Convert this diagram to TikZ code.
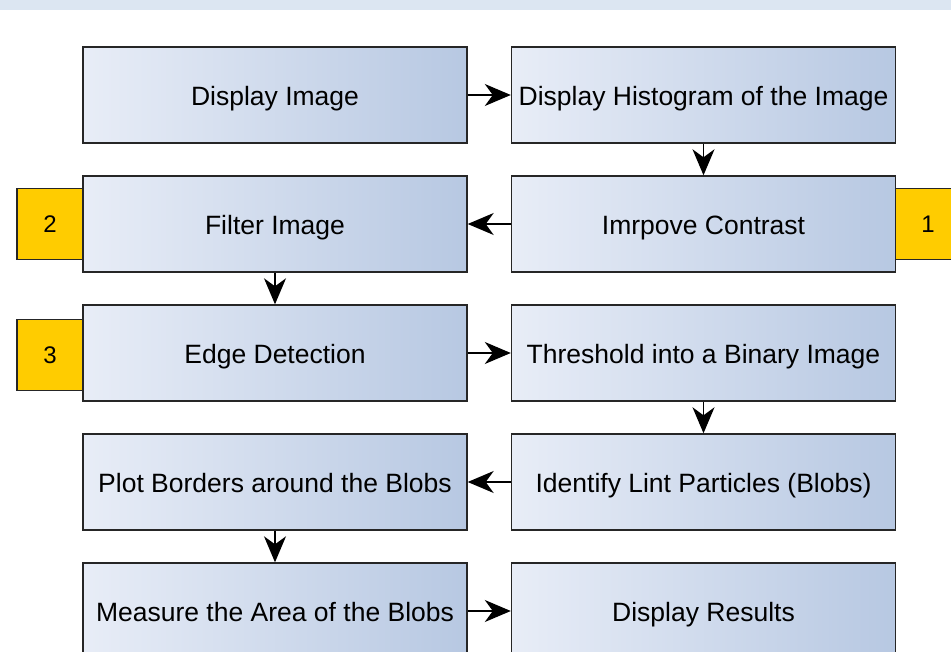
\documentclass[tikz,border=0pt]{standalone}
\usepackage{fontspec}
\setmainfont{Liberation Sans}
\usetikzlibrary{arrows.meta, positioning}

\definecolor{stripblue}{HTML}{DCE6F2}
\definecolor{boxleft}{HTML}{E8EDF7}
\definecolor{boxright}{HTML}{B7C8E2}
\definecolor{tagyellow}{HTML}{FFCC00}

\begin{document}
\begin{tikzpicture}[
  x=1pt, y=-1pt,
  stepbox/.style = {rectangle, draw=black!85, line width=1.4pt, left color=boxleft, right color=boxright,
                    minimum width=384pt, minimum height=96pt, inner sep=0pt,
                    text height=21pt, text depth=0pt,
                    font=\fontsize{26.5}{30}\selectfont},
  tag/.style = {rectangle, draw=black!85, line width=1.4pt, fill=tagyellow,
                minimum width=66pt, minimum height=71pt, inner sep=0pt,
                text height=18pt, text depth=0pt,
                font=\fontsize{24}{28}\selectfont},
  arrow/.style = {line width=1.4pt, -{Stealth[length=26pt, width=22pt, inset=8pt]}}
]

% Frame
\useasboundingbox (0,0) rectangle (951,652);
\fill[stripblue] (0,0) rectangle (951,10);

% Tags (behind the boxes)
\node[tag] (tagtwo) at (50,224) {2};
\node[tag] (tagone) at (928,224) {1};
\node[tag] (tagthree) at (50,355) {3};

% Left column
\node[stepbox] (show)    at (275,95)  {Display Image};
\node[stepbox] (filter)  at (275,224) {Filter Image};
\node[stepbox] (edge)    at (275,353) {Edge Detection};
\node[stepbox] (borders) at (275,482) {Plot Borders around the Blobs};
\node[stepbox] (area)    at (275,611) {Measure the Area of the Blobs};

% Right column
\node[stepbox] (hist)    at (703.5,95)  {Display Histogram of the Image};
\node[stepbox] (contrast) at (703.5,224) {Imrpove Contrast};
\node[stepbox] (binary)  at (703.5,353) {Threshold into a Binary Image};
\node[stepbox] (blobs)   at (703.5,482) {Identify Lint Particles (Blobs)};
\node[stepbox] (results) at (703.5,611) {Display Results};

% Flow
\draw[arrow] (show) -- (hist);
\draw[arrow] (hist) -- (contrast);
\draw[arrow] (contrast) -- (filter);
\draw[arrow] (filter) -- (edge);
\draw[arrow] (edge) -- (binary);
\draw[arrow] (binary) -- (blobs);
\draw[arrow] (blobs) -- (borders);
\draw[arrow] (borders) -- (area);
\draw[arrow] (area) -- (results);

\end{tikzpicture}
\end{document}
